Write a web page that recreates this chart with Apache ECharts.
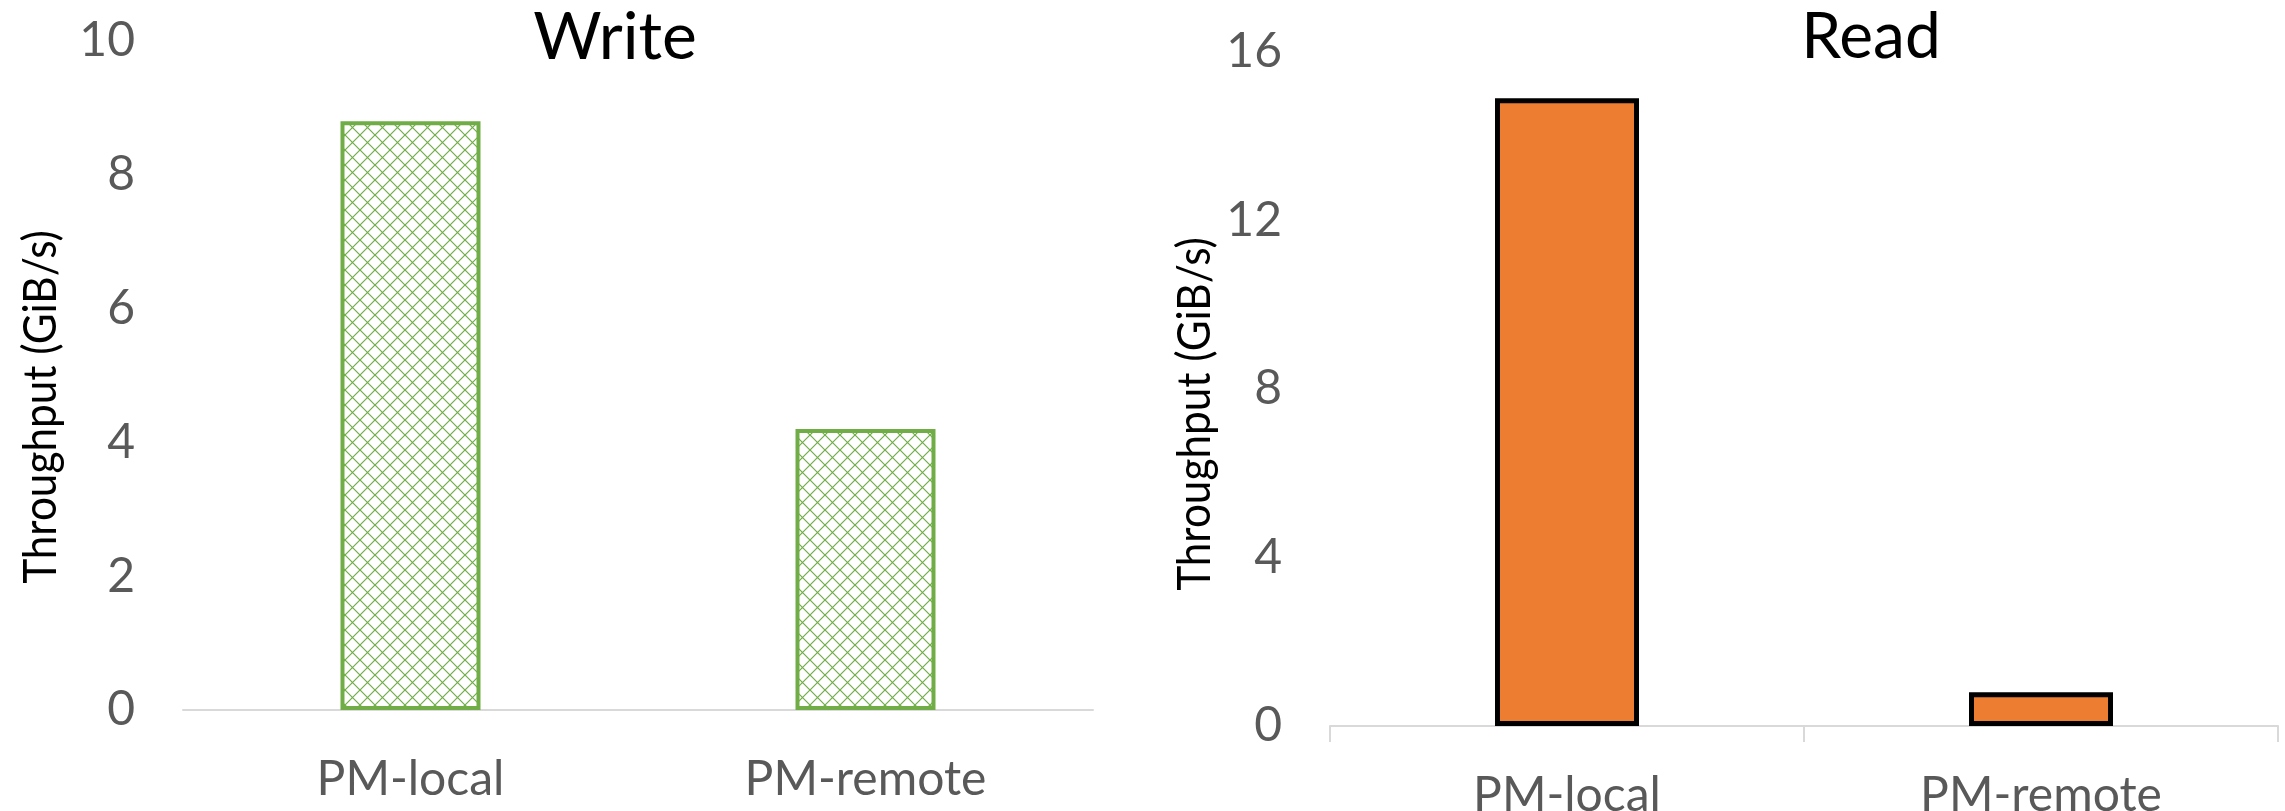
<!DOCTYPE html>
<html>
<head>
<meta charset="utf-8">
<script src="https://cdn.jsdelivr.net/npm/echarts@6/dist/echarts.min.js"></script>
<style>
  html, body { margin: 0; padding: 0; background: #ffffff; }
  #chart { width: 2285px; height: 811px; }
</style>
</head>
<body>
<div id="chart"></div>
<script>
// Throughput of persistent memory, local vs remote
const categories = ['PM-local', 'PM-remote'];
const writeValues = [8.8, 4.2];
const readValues = [14.9, 0.8];
const writeTicks = [0, 2, 4, 6, 8, 10];
const readTicks = [0, 4, 8, 12, 16];

const FONT = 'Lato, "Open Sans", sans-serif';
const GREEN = '#70AD47';
const ORANGE = '#ED7D31';
const GRAY_TEXT = '#595959';
const AXIS_GRAY = '#d9d9d9';

// Diamond lattice fill for the write bars
function latticePattern() {
  const s = 15;
  const c = document.createElement('canvas');
  c.width = s; c.height = s;
  const g = c.getContext('2d');
  g.fillStyle = '#ffffff';
  g.fillRect(0, 0, s, s);
  g.strokeStyle = GREEN;
  g.lineWidth = 1.2;
  g.beginPath();
  g.moveTo(-2, -2); g.lineTo(s + 2, s + 2);
  g.moveTo(s + 2, -2); g.lineTo(-2, s + 2);
  g.stroke();
  return c;
}

const chart = echarts.init(document.getElementById('chart'), null, { renderer: 'canvas' });

function yAxisFor(ticks, gridIndex) {
  return {
    type: 'value',
    gridIndex: gridIndex,
    min: ticks[0],
    max: ticks[ticks.length - 1],
    interval: ticks[1] - ticks[0],
    axisLine: { show: false },
    axisTick: { show: false },
    splitLine: { show: false },
    axisLabel: { color: GRAY_TEXT, fontSize: 48, fontFamily: FONT, margin: 48 }
  };
}

// rotated axis name, slightly condensed along its length
function axisName(x, y) {
  return {
    type: 'text', x: x, y: y, rotation: Math.PI / 2, scaleX: 0.9,
    style: { text: 'Throughput (GiB/s)', fontFamily: FONT, fontSize: 47, fill: '#000',
             textAlign: 'center', textVerticalAlign: 'middle' }
  };
}

chart.setOption({
  animation: false,
  backgroundColor: '#ffffff',
  title: [
    { text: 'Write', left: 610, top: 0, textAlign: 'center',
      textStyle: { fontFamily: FONT, fontSize: 66, fontWeight: 'normal', color: '#000' } },
    { text: 'Read', left: 1866, top: 0, textAlign: 'center',
      textStyle: { fontFamily: FONT, fontSize: 64, fontWeight: 'normal', color: '#000' } }
  ],
  grid: [
    { left: 183, right: 2285 - 1093, top: 41, bottom: 811 - 710, outerBoundsMode: 'none', containLabel: false },
    { left: 1330, right: 7, top: 52, bottom: 811 - 726, outerBoundsMode: 'none', containLabel: false }
  ],
  xAxis: [
    { type: 'category', gridIndex: 0, data: categories,
      axisLine: { lineStyle: { color: AXIS_GRAY, width: 2 } },
      axisTick: { show: false },
      axisLabel: { color: GRAY_TEXT, fontSize: 48, fontFamily: FONT, margin: 46 } },
    { type: 'category', gridIndex: 1, data: categories,
      axisLine: { lineStyle: { color: AXIS_GRAY, width: 2 } },
      axisTick: { show: true, length: 16, lineStyle: { color: AXIS_GRAY, width: 2 } },
      axisLabel: { color: GRAY_TEXT, fontSize: 48, fontFamily: FONT, margin: 46 } }
  ],
  yAxis: [ yAxisFor(writeTicks, 0), yAxisFor(readTicks, 1) ],
  graphic: [ axisName(41, 407), axisName(1195, 414) ],
  series: [
    { type: 'bar', xAxisIndex: 0, yAxisIndex: 0, data: writeValues, barWidth: 140,
      itemStyle: { color: { image: latticePattern(), repeat: 'repeat' },
                   borderColor: GREEN, borderWidth: 4 } },
    { type: 'bar', xAxisIndex: 1, yAxisIndex: 1, data: readValues, barWidth: 144,
      itemStyle: { color: ORANGE, borderColor: '#000', borderWidth: 5 } }
  ]
});
</script>
</body>
</html>
